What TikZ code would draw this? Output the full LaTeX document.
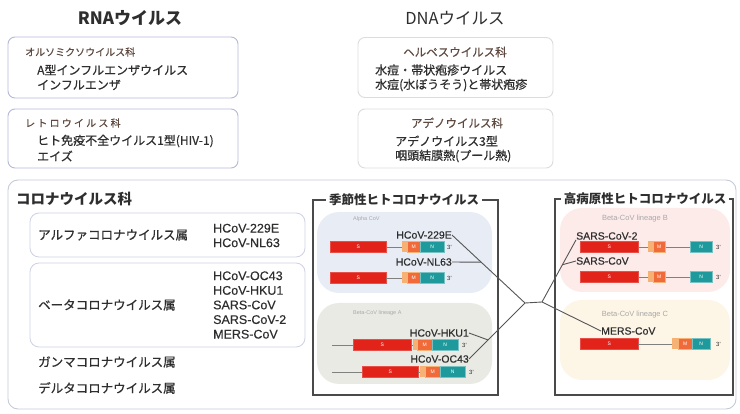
\documentclass[tikz,border=0pt]{standalone}
\usepackage{fontspec}
\setmainfont{Noto Sans CJK JP}
\newfontfamily\latinfont{Liberation Sans}
\usetikzlibrary{calc}

\definecolor{txt}{HTML}{2E2E2E}
\definecolor{hdrc}{HTML}{5E4A40}
\definecolor{rnaline}{HTML}{B4B9D6}
\definecolor{dnaline}{HTML}{DCDCDC}
\definecolor{covline}{HTML}{C5CAD8}
\definecolor{genusline}{HTML}{CDD1E2}
\definecolor{frameline}{HTML}{4A4A4A}
\definecolor{alphafill}{HTML}{E8ECF5}
\definecolor{linafill}{HTML}{EAEAE5}
\definecolor{linbfill}{HTML}{FDEBEA}
\definecolor{lincfill}{HTML}{FDF5E6}
\definecolor{sred}{HTML}{E2231A}
\definecolor{eorange}{HTML}{F5B274}
\definecolor{morange}{HTML}{F06A3A}
\definecolor{nteal}{HTML}{1E9A9C}
\definecolor{treeline}{HTML}{555555}
\definecolor{labgray}{HTML}{A8A8A8}

\begin{document}
\begin{tikzpicture}[
    x=1pt, y=-1pt,
    every node/.style={inner sep=0pt, text=txt},
    title/.style={font=\fontsize{16}{18}\selectfont},
    hdr/.style={anchor=west, font=\fontsize{10}{12}\selectfont\addfontfeature{FakeBold=0.5}, text=hdrc},
    body/.style={anchor=west, font=\fontsize{12}{14.5}\selectfont\addfontfeature{FakeBold=0.6}, align=left},
    genus/.style={anchor=west, font=\fontsize{12.5}{14.5}\selectfont\addfontfeature{FakeBold=0.6}},
    cov/.style={anchor=west, font=\latinfont\fontsize{12.5}{14.6}\selectfont\addfontfeature{FakeBold=0.4}, align=left},
    rnabox/.style={draw=rnaline, line width=0.9pt, rounded corners=7pt},
    dnabox/.style={draw=dnaline, line width=0.9pt, rounded corners=7pt},
    genusbox/.style={draw=genusline, line width=0.8pt, rounded corners=9pt},
    frame/.style={draw=frameline, line width=1.5pt},
    frametitle/.style={fill=white, inner xsep=3pt, inner ysep=1pt,
        font=\fontsize{12.5}{14}\selectfont\bfseries},
    bubble/.style={rounded corners=22pt},
    lineage/.style={anchor=west, text=labgray, font=\latinfont\fontsize{5.5}{6}\selectfont},
    virus/.style={font=\latinfont\fontsize{10.5}{12}\selectfont\addfontfeature{FakeBold=0.4}},
    sgene/.style={anchor=west, fill=sred, draw=sred!80!white, line width=0.4pt,
        minimum height=11, text=white, font=\latinfont\fontsize{5}{5}\selectfont},
    egene/.style={anchor=west, fill=eorange, minimum height=11},
    mgene/.style={anchor=west, fill=morange, draw=eorange, line width=0.6pt,
        minimum height=11, text=white, font=\latinfont\fontsize{5}{5}\selectfont},
    ngene/.style={anchor=west, fill=nteal, draw=nteal!60!white, line width=0.6pt,
        minimum height=11, text=white, font=\latinfont\fontsize{5}{5}\selectfont},
    prime/.style={anchor=west, font=\latinfont\fontsize{6}{6}\selectfont},
    rna/.style={draw=gray, line width=0.7pt},
    tree/.style={draw=treeline, line width=0.9pt}
]
\useasboundingbox (0,0) rectangle (740,414);

% RNA / DNA headings
\node[title, font=\fontsize{17}{18}\selectfont\bfseries] (rnatitle) at (130,18) {RNAウイルス};
\node[title, font=\fontsize{16.5}{18}\selectfont] (dnatitle) at (455,18) {DNAウイルス};

% RNA virus families
\node[rnabox, minimum width=230, minimum height=61] (ortho) at (123,67.5) {};
\node[hdr] (orthohdr) at (25,52) {オルソミクソウイルス科};
\node[body] (orthoa) at (37,70) {A型インフルエンザウイルス};
\node[body] (orthob) at (37,85) {インフルエンザ};

\node[rnabox, minimum width=230, minimum height=59] (retro) at (123,138.5) {};
\node[hdr] (retrohdr) at (25,123) {\addfontfeature{LetterSpace=22}レトロウイルス科};
\node[body] (retroa) at (37,141) {ヒト免疫不全ウイルス1型(HIV-1)};
\node[body] (retrob) at (37,156) {エイズ};

% DNA virus families
\node[dnabox, minimum width=195, minimum height=60] (herpes) at (455.5,67.5) {};
\node[hdr, anchor=center, font=\fontsize{11.5}{12}\selectfont\addfontfeature{FakeBold=0.4}] (herpeshdr) at (455,52) {ヘルペスウイルス科};
\node[body] (herpesa) at (375,70) {水痘・帯状疱疹ウイルス};
\node[body] (herpesb) at (375,85) {水痘(水ぼうそう)と帯状疱疹};

\node[dnabox, minimum width=195, minimum height=59] (adeno) at (455.5,138.5) {};
\node[hdr, anchor=center, font=\fontsize{11.5}{12}\selectfont\addfontfeature{FakeBold=0.4}] (adenohdr) at (457,123) {アデノウイルス科};
\node[body] (adenoa) at (395,141) {アデノウイルス3型};
\node[body] (adenob) at (395,156) {咽頭結膜熱(プール熱)};

% Coronaviridae
\node[draw=covline, line width=0.9pt, rounded corners=10pt,
    minimum width=728, minimum height=229] (corona) at (372,294.5) {};
\node[anchor=west, font=\fontsize{14.5}{16}\selectfont\bfseries] (coronahdr) at (16,199) {コロナウイルス科};

\node[genusbox, minimum width=275, minimum height=44] (alphabox) at (167.5,235) {};
\node[genus] (alpha) at (38,235) {アルファコロナウイルス属};
\node[cov] (alphalist) at (213,235.5) {HCoV-229E\\HCoV-NL63};

\node[genusbox, minimum width=275, minimum height=84] (betabox) at (167.5,305) {};
\node[genus] (beta) at (38,305) {ベータコロナウイルス属};
\node[cov] (betalist) at (213,305) {HCoV-OC43\\HCoV-HKU1\\SARS-CoV\\SARS-CoV-2\\MERS-CoV};

\node[genus] (gamma) at (38,362) {ガンマコロナウイルス属};
\node[genus] (delta) at (38,388) {デルタコロナウイルス属};

% seasonal human coronaviruses
\node[bubble, fill=alphafill, minimum width=175, minimum height=81] (alphacov) at (404.5,252.5) {};
\node[bubble, fill=linafill, minimum width=175, minimum height=81] (lina) at (404.5,343.5) {};
\node[frame, minimum width=185, minimum height=195] (seasonal) at (405.5,297.5) {};
\node[frametitle] (seasonaltitle) at (404,200) {季節性ヒトコロナウイルス};
\node[lineage] (alphalab) at (353,219) {Alpha CoV};
\node[lineage] (linalab) at (353,313) {Beta-CoV lineage A};

\node[virus, anchor=east] (g229) at (452,235) {HCoV-229E};
\node[sgene, minimum width=56] (s1) at (330,247) {S};
\node[egene, minimum width=5] (e1) at (402,247) {};
\node[mgene, minimum width=13] (m1) at (407,247) {M};
\node[ngene, minimum width=24] (n1) at (420,247) {N};
\node[prime] (p1) at (447,247) {3'};
\draw[rna] (s1.east) -- (e1.west);

\node[virus, anchor=east] (gnl63) at (452,262) {HCoV-NL63};
\node[sgene, minimum width=56] (s2) at (330,278) {S};
\node[egene, minimum width=5] (e2) at (402,278) {};
\node[mgene, minimum width=13] (m2) at (407,278) {M};
\node[ngene, minimum width=24] (n2) at (420,278) {N};
\node[prime] (p2) at (447,278) {3'};
\draw[rna] (s2.east) -- (e2.west);

\node[virus, anchor=east] (ghku1) at (469,333) {HCoV-HKU1};
\coordinate (h3) at (332,345);
\node[sgene, minimum width=58] (s3) at (353,345) {S};
\node[egene, minimum width=4] (e3) at (413,345) {};
\node[mgene, minimum width=15] (m3) at (417,345) {M};
\node[ngene, minimum width=26] (n3) at (432,345) {N};
\node[prime] (p3) at (462,345) {3'};
\draw[rna] (h3) -- (s3.west) (s3.east) -- (e3.west);

\node[virus, anchor=east] (goc43) at (469,359) {HCoV-OC43};
\coordinate (h4) at (332,372);
\node[sgene, minimum width=56] (s4) at (362,372) {S};
\node[egene, minimum width=5] (e4) at (420,372) {};
\node[mgene, minimum width=15] (m4) at (425,372) {M};
\node[ngene, minimum width=25] (n4) at (440,372) {N};
\node[prime] (p4) at (469,372) {3'};
\draw[rna] (h4) -- (s4.west) (s4.east) -- (e4.west);

% highly pathogenic human coronaviruses
\node[bubble, fill=linbfill, minimum width=170, minimum height=84] (linb) at (645,250) {};
\node[bubble, fill=lincfill, minimum width=170, minimum height=80] (linc) at (645,340) {};
\node[frame, minimum width=178, minimum height=196] (severe) at (644,297) {};
\node[frametitle] (severetitle) at (645,199) {高病原性ヒトコロナウイルス};
\node[lineage, anchor=center, font=\latinfont\fontsize{7.5}{8}\selectfont] (linblab) at (635,219) {Beta-CoV lineage B};
\node[lineage, anchor=center, font=\latinfont\fontsize{7.5}{8}\selectfont] (linclab) at (635,315) {Beta-CoV lineage C};

\node[virus, anchor=west] (gsars2) at (576,236) {SARS-CoV-2};
\node[sgene, minimum width=58] (s5) at (580,247) {S};
\node[egene, minimum width=5] (e5) at (648,247) {};
\node[mgene, minimum width=12] (m5) at (653,247) {M};
\node[ngene, minimum width=22] (n5) at (690,247) {N};
\node[prime] (p5) at (716,247) {3'};
\draw[rna] (s5.east) -- (e5.west) (m5.east) -- (n5.west);

\node[virus, anchor=west] (gsars) at (576,261) {SARS-CoV};
\node[sgene, minimum width=58] (s6) at (580,277) {S};
\node[egene, minimum width=5] (e6) at (648,277) {};
\node[mgene, minimum width=12] (m6) at (653,277) {M};
\node[ngene, minimum width=22] (n6) at (690,277) {N};
\node[prime] (p6) at (716,277) {3'};
\draw[rna] (s6.east) -- (e6.west) (m6.east) -- (n6.west);

\node[virus, anchor=west] (gmers) at (601,331) {MERS-CoV};
\node[sgene, minimum width=58] (s7) at (580,344) {S};
\node[egene, minimum width=6] (e7) at (672,344) {};
\node[mgene, minimum width=14] (m7) at (678,344) {M};
\node[ngene, minimum width=18] (n7) at (692,344) {N};
\node[prime] (p7) at (716,344) {3'};
\draw[rna] (s7.east) -- (e7.west);

% tree linking the viruses
\coordinate (jA) at (525,303);
\coordinate (jB) at (542,302);
\coordinate (kNL) at ($(g229.east)!0.4!(jA)$);
\coordinate (kHK) at ($(goc43.east)!0.34!(jA)$);
\coordinate (kS) at ($(jB)!0.6!(gsars2.south west)$);
\draw[tree] (g229.east) -- (jA) -- (jB);
\draw[tree] (goc43.east) -- (jA);
\draw[tree] (gnl63.east) -- (kNL);
\draw[tree] (ghku1.east) -- (kHK);
\draw[tree] (jB) -- (gsars2.south west);
\draw[tree] (gsars.west) -- (kS);
\draw[tree] (jB) -- (gmers.west);

\end{tikzpicture}
\end{document}
